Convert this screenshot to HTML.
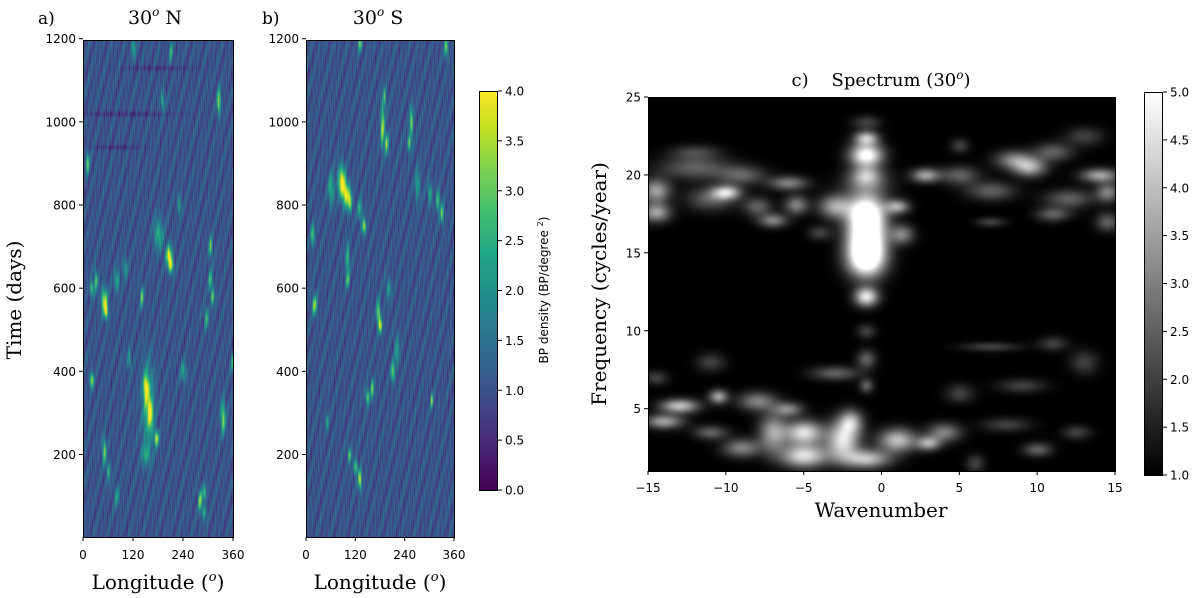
<!DOCTYPE html>
<html><head><meta charset="utf-8"><style>
body{margin:0;background:#fff;width:1200px;height:598px;overflow:hidden;position:relative}
canvas{position:absolute}
svg{position:absolute;left:0;top:0}
.s{font-family:"DejaVu Serif","Liberation Serif",serif}
.t{font-family:"DejaVu Sans","Liberation Sans",sans-serif;font-size:12px}
</style></head><body>
<canvas id="ca" width="150" height="497" style="left:83px;top:40px"></canvas>
<canvas id="cb" width="148" height="497" style="left:306px;top:40px"></canvas>
<canvas id="cbar1" width="19" height="399" style="left:479px;top:91px"></canvas>
<canvas id="cc" width="467" height="374" style="left:648px;top:97px"></canvas>
<canvas id="cbar2" width="18" height="383" style="left:1144px;top:92px"></canvas>
<svg id="sv" width="1200" height="598"></svg>
<script>
// ---- data: blob features ----
// panel a: [lon, day, value, rlon, rday]
const blobsA=[[150,360,3.9,4,25],[160,300,3.8,4,25],[175,240,3.6,4,15],[205,680,3.9,5,20],[210,655,3.5,4,15],[50,570,3.7,5,25],[55,545,3.5,3,15],[20,380,3.6,3,15],[50,210,3.3,3,25],[280,90,3.5,3,20],[290,110,2.8,3,15],[335,290,3.3,4,30],[325,1050,3.5,3,25],[10,900,3,3,20],[30,620,3,3,20],[20,600,3,3,15],[305,700,3,3,20],[305,620,2.8,3,20],[310,580,3,3,15],[140,580,3,3,20],[295,530,2.8,3,20],[80,620,2.5,4,20],[190,1050,2.5,3,20],[100,650,2.2,4,20],[60,160,2.5,3,20],[180,730,2.5,8,30],[230,800,2.3,3,20],[110,430,2.3,3,20],[358,420,2.5,3,20],[155,320,2.6,10,80],[290,60,2.5,3,15],[120,1180,2.5,3,20],[210,1170,2.5,3,20],[150,200,2.2,8,20],[240,400,2.2,5,20],[80,100,2.2,4,20],[180,1130,0.6,60,5],[100,1020,0.6,80,5],[80,940,0.6,40,5]];
// panel b
const blobsB=[[85,860,3.8,6,30],[95,830,3.7,6,25],[105,810,3.5,4,20],[140,750,3.6,3,15],[185,990,3.7,3,40],[195,950,3.5,3,20],[255,1000,3.2,3,30],[250,950,3,3,15],[175,540,3.6,3,25],[180,510,3.4,3,15],[130,140,3.7,3,20],[120,170,3.2,3,15],[105,200,3,3,15],[148,340,3.2,3,15],[160,360,3,3,20],[210,400,3.2,3,20],[305,330,3.3,2,15],[20,560,3.3,4,20],[15,730,3,3,20],[100,670,2.9,3,30],[100,620,2.8,3,15],[130,1190,3.3,3,15],[340,1180,3.2,3,20],[320,810,3,3,20],[330,780,3,3,20],[300,830,2.6,3,20],[50,280,2.8,2,15],[130,790,2.6,4,20],[60,840,2.6,5,30],[270,850,2.4,4,30],[220,450,2.3,4,30],[200,600,2.2,4,20],[190,1060,2.6,3,20]];
// panel c: [k, f, value, rk, rf]
const blobsC=[[-1,17.6,5.5,0.8,0.8],[-1,16,5.5,0.8,0.9],[-1,14.6,5.5,0.8,0.8],[-1,21.3,5.2,0.7,0.5],[-1,22.4,3.8,0.5,0.3],[-1,12.2,4.6,0.5,0.4],[-1,10,2,0.4,0.3],[-1,20,3,0.6,0.4],[-1,23.4,2,0.6,0.3],
[-14.5,19,3.5,0.6,0.5],[-14.5,17.6,3.5,0.6,0.4],[-10,18.9,4,0.6,0.3],[-11,18.5,2.5,1,0.5],[-12,20.5,2.5,1.5,0.5],[-8,18,2.5,0.6,0.4],[-7,17.1,3,0.6,0.3],[-6,19.5,3,0.8,0.3],[-5.5,18.1,3,0.5,0.4],[-3,18,3.5,0.7,0.5],[-4,16.3,2,0.5,0.3],[-9,20,2.5,1,0.4],[-12,21.5,2,1,0.3],[1,18,3.5,0.5,0.3],[1.3,16.2,3,0.5,0.4],[2.8,20,3.5,0.6,0.3],[5,20,2.5,0.8,0.4],[5,21.9,2,0.4,0.3],[8.5,21,3,0.8,0.4],[9.5,20.5,3.5,0.7,0.4],[11,21.5,2.5,0.8,0.4],[14,20,3.5,0.8,0.3],[14.5,18.9,3,0.5,0.4],[12,18.5,2.5,1,0.4],[7,19,2.5,1,0.4],[11,17.5,2.5,0.7,0.3],[14.5,17,2.5,0.5,0.4],[13,22.5,2,0.8,0.4],[7,17,2,0.6,0.2],[-1,19.5,2.5,1,0.6],
[-13,5.2,4,0.8,0.3],[-14,4.2,3.5,0.8,0.3],[-10.5,5.8,3.5,0.4,0.3],[-8,5.5,3,0.8,0.4],[-5,3.5,4.5,0.8,0.5],[-5,2,4.5,1,0.5],[-2.5,3,4.5,0.7,0.8],[-2,4.2,3.5,0.5,0.5],[-1,1.8,4,1,0.4],[1,3,4,0.8,0.5],[3,2.8,3.5,0.5,0.3],[-7,3.5,3.5,0.6,0.8],[-9,2.5,3,0.8,0.4],[-11,3.5,2.5,0.7,0.3],[-11,8,2,0.6,0.4],[4,3.5,3,0.7,0.4],[-1,8.2,2.5,0.4,0.4],[-1,6.5,2.5,0.3,0.3],[-3,7.3,2.5,1,0.3],[7,9,2,1.2,0.2],[10,2.4,2.5,0.6,0.3],[12.5,3.5,2,0.6,0.3],[6,1.5,2,0.4,0.4],[13,8,2,0.6,0.5],[9,6.5,2,1,0.3],[5,6,2,0.6,0.4],[-14.5,7,2,0.5,0.3],[-6,5,3,0.6,0.3],[8,4,2,1,0.3],[11,9.2,2,0.6,0.3]];
const lonTicks=[0,120,240,360];
const dayTicks=[200,400,600,800,1000,1200];
const cbar1Ticks=[0,0.5,1,1.5,2,2.5,3,3.5,4];
const kTicks=[-15,-10,-5,0,5,10,15];
const fTicks=[5,10,15,20,25];
const cbar2Ticks=[1,1.5,2,2.5,3,3.5,4,4.5,5];

const VS=[[68,1,84],[72,36,117],[65,68,135],[53,95,141],[42,120,142],[33,145,140],[34,168,132],[68,191,112],[122,209,81],[189,223,38],[253,231,37]];
function viridis(t){t=Math.max(0,Math.min(1,t));const p=t*10,i=Math.min(9,Math.floor(p)),f=p-i;return VS[i].map((c,j)=>c+(VS[i+1][j]-c)*f);}
function field(bl,x,y,base,sx,sy){let v=base;for(const b of bl){const dx=(x-b[0])/(b[3]*sx),dy=(y-b[1])/(b[4]*sy);const d=dx*dx+dy*dy;if(d<9)v+=(b[2]-base)*Math.exp(-d);}return v;}
const dayA=d=>496-(d-4)*0.4158;
const lonX=(l,w)=>l/360*w;
function tex(x,y){return 0.35*Math.sin(x*2.3+Math.sin(y*0.05)*3)*Math.cos(y*0.09+x*0.7)+0.25*Math.sin(x*5.1+y*0.13)*Math.sin(y*0.031+x*1.7)+0.2*Math.cos(x*0.9+y*0.21);}
function drawLL(id,bl){const c=document.getElementById(id),ctx=c.getContext('2d'),W=c.width,H=c.height,im=ctx.createImageData(W,H);
for(let y=0;y<H;y++){const day=4+(496-y)/0.4158;for(let x=0;x<W;x++){const lon=x/W*360;let v=field(bl,lon,day,1.05,1.4,1.2);
v+=tex(x,y);const col=viridis(v/4);const o=(y*W+x)*4;im.data[o]=col[0];im.data[o+1]=col[1];im.data[o+2]=col[2];im.data[o+3]=255;}}
ctx.putImageData(im,0,0);}
drawLL('ca',blobsA);drawLL('cb',blobsB);
(function(){const c=document.getElementById('cc'),ctx=c.getContext('2d'),W=c.width,H=c.height,im=ctx.createImageData(W,H);
for(let y=0;y<H;y++){const f=25-y/H*24;for(let x=0;x<W;x++){const k=-15+x/W*30;const v=field(blobsC,k,f,1,1.5,1.5);const g=Math.round(Math.max(0,Math.min(1,(v-1)/4))*255);const o=(y*W+x)*4;im.data[o]=g;im.data[o+1]=g;im.data[o+2]=g;im.data[o+3]=255;}}
ctx.putImageData(im,0,0);})();
(function(){let c=document.getElementById('cbar1'),ctx=c.getContext('2d');for(let y=0;y<c.height;y++){const col=viridis(1-y/(c.height-1));ctx.fillStyle=`rgb(${col.map(Math.round)})`;ctx.fillRect(0,y,c.width,1);}
c=document.getElementById('cbar2');ctx=c.getContext('2d');const gr=ctx.createLinearGradient(0,0,0,c.height);gr.addColorStop(0,'#fff');gr.addColorStop(1,'#000');ctx.fillStyle=gr;ctx.fillRect(0,0,c.width,c.height);})();

const sv=document.getElementById('sv');const NS='http://www.w3.org/2000/svg';
function el(tag,at,txt){const e=document.createElementNS(NS,tag);for(const k in at)e.setAttribute(k,at[k]);if(txt!==undefined)e.textContent=txt;sv.appendChild(e);return e;}
function frame(x,y,w,h,name){const r=el('rect',{x:x+0.5,y:y+0.5,width:w,height:h,fill:'none',stroke:'#000','stroke-width':1});}
[[83,150,'a'],[306,148,'b']].forEach(([x0,w,p])=>{frame(x0,40,w,497,'frame-'+p);
lonTicks.forEach(l=>{const x=x0+lonX(l,w);el('line',{x1:x,x2:x,y1:537,y2:541,stroke:'#000'});const t=el('text',{x:x,y:559,'text-anchor':'middle',class:'t'},l);});
dayTicks.forEach(d=>{const y=40+dayA(d);el('line',{x1:x0,x2:x0-4,y1:y,y2:y,stroke:'#000'});const t=el('text',{x:x0-7,y:y+4.5,'text-anchor':'end',class:'t'},d);});
const xl=el('text',{x:x0+w/2,y:589,'text-anchor':'middle',class:'s','font-size':20});xl.innerHTML='Longitude (<tspan font-style="italic" font-size="13" dy="-8">o</tspan><tspan dy="8">)</tspan>';});
let t;
t=el('text',{x:38,y:24,class:'s','font-size':17},'a)');
t=el('text',{x:262,y:24,class:'s','font-size':17},'b)');
t=el('text',{x:155,y:24,'text-anchor':'middle',class:'s','font-size':19});t.innerHTML='30<tspan font-size="12" dy="-8" font-style="italic">o</tspan><tspan dy="8"> N</tspan>';
t=el('text',{x:378,y:24,'text-anchor':'middle',class:'s','font-size':19});t.innerHTML='30<tspan font-size="12" dy="-8" font-style="italic">o</tspan><tspan dy="8"> S</tspan>';
t=el('text',{x:0,y:0,'text-anchor':'middle',class:'s','font-size':20,transform:'translate(21,300) rotate(-90)'},'Time (days)');
frame(479,91,18,399,'colorbar-frame-1');
cbar1Ticks.forEach(v=>{const y=490-v/4*399;el('line',{x1:498,x2:502,y1:y,y2:y,stroke:'#000'});const tt=el('text',{x:505,y:y+4.5,class:'t'},v.toFixed(1));});
t=el('text',{x:0,y:0,'text-anchor':'middle',class:'t','font-size':12,transform:'translate(548,290) rotate(-90)'});t.innerHTML='BP density (BP/degree <tspan font-size="8" dy="-5">2</tspan><tspan dy="5">)</tspan>';
frame(648,97,467,374,'frame-c');
kTicks.forEach(k=>{const x=648+(k+15)/30*467;el('line',{x1:x,x2:x,y1:471,y2:475,stroke:'#000'});const tt=el('text',{x:x,y:492,'text-anchor':'middle',class:'t'},k<0?'\u2212'+(-k):k);});
fTicks.forEach(f=>{const y=471-(f-1)/24*374;el('line',{x1:648,x2:644,y1:y,y2:y,stroke:'#000'});const tt=el('text',{x:641,y:y+4.5,'text-anchor':'end',class:'t'},f);});
t=el('text',{x:881,y:517,'text-anchor':'middle',class:'s','font-size':20},'Wavenumber');
t=el('text',{x:0,y:0,'text-anchor':'middle',class:'s','font-size':20,transform:'translate(606,284) rotate(-90)'},'Frequency (cycles/year)');
t=el('text',{x:881,y:86,'text-anchor':'middle',class:'s','font-size':18});t.innerHTML='c)&#160;&#160;&#160; Spectrum (30<tspan font-size="12" dy="-7" font-style="italic">o</tspan><tspan dy="7">)</tspan>';
frame(1144,92,18,383,'colorbar-frame-2');
cbar2Ticks.forEach(v=>{const y=475-(v-1)/4*383;el('line',{x1:1163,x2:1167,y1:y,y2:y,stroke:'#000'});const tt=el('text',{x:1170,y:y+4.5,class:'t'},v.toFixed(1));});
</script>
</body></html>
